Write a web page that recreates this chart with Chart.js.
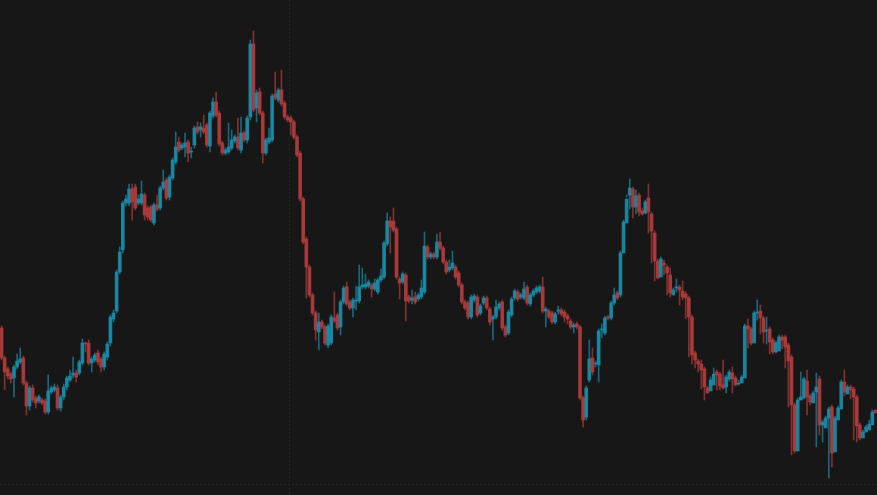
<!DOCTYPE html>
<html>
<head>
<meta charset="utf-8">
<script src="https://cdn.jsdelivr.net/npm/chart.js@4.4.1/dist/chart.umd.min.js"></script>
<style>
  html, body { margin: 0; padding: 0; background: #171717; }
  #wrap { width: 877px; height: 495px; position: relative; }
</style>
</head>
<body>
<div id="wrap"><canvas id="candles"></canvas></div>
<script>
// candle prices (one entry per candle)
const opens = [172,142,131,126,122,133,138,142,117,94,112,102,99,100,99,88,108,110,112,92,103,113,120,125,127,127,137,157,157,137,140,147,141,133,143,157,181,189,228,250,297,297,311,313,297,297,305,292,
  293,277,295,292,312,320,303,322,338,358,352,353,358,348,355,373,370,372,375,354,384,398,387,357,347,348,352,359,363,350,367,360,383,456,392,408,387,347,358,360,406,400,410,397,383,382,378,
  363,347,301,261,233,205,187,168,178,173,155,157,182,185,173,198,213,198,192,199,199,213,213,214,215,211,208,220,223,256,279,279,271,221,218,225,203,200,203,201,203,208,253,243,246,243,
  258,252,238,230,232,233,227,215,198,197,183,200,203,187,197,202,191,181,183,192,198,173,167,185,202,208,203,202,213,196,205,208,209,213,189,189,187,178,189,190,188,184,179,173,176,173,102,
  83,120,142,136,135,170,167,183,182,197,207,205,247,277,305,311,293,305,289,287,302,286,267,239,223,237,233,225,205,212,213,209,206,202,183,147,139,136,131,112,109,115,128,126,115,113,
  121,127,122,116,117,122,174,171,157,187,189,182,169,171,160,148,149,163,163,155,143,95,49,100,102,119,104,97,108,121,75,72,82,93,48,80,91,118,106,113,111,103,75,62,68,70,75,90];
const highs = [174,144,133,128,135,146,152,144,119,114,115,104,105,102,101,125,114,116,115,105,116,124,130,143,130,140,161,158,160,143,147,150,143,148,158,185,190,230,253,299,305,316,316,316,305,319,307,294,
  295,297,305,314,330,322,325,342,368,363,357,367,360,353,374,378,377,385,377,389,402,408,389,359,352,377,370,365,382,383,369,384,460,469,410,412,389,362,372,406,428,412,430,399,385,384,380,
  365,349,303,263,235,207,189,187,180,175,176,185,208,187,200,214,218,200,202,214,235,232,226,220,217,221,222,231,259,287,283,292,273,223,228,227,205,210,208,207,220,268,255,248,248,266,
  268,254,240,240,249,235,229,217,200,199,205,206,205,196,204,204,193,185,200,198,200,175,190,203,211,210,207,218,215,207,211,214,215,223,193,191,189,188,194,192,190,186,181,177,178,175,104,
  114,160,152,139,171,176,184,185,199,212,209,249,280,305,321,313,310,307,292,300,316,288,269,241,243,240,235,232,212,221,215,219,208,204,185,149,141,140,133,114,123,132,130,128,140,125,
  130,133,124,120,125,176,181,173,189,200,195,184,183,173,162,159,165,165,165,157,145,97,102,128,123,130,106,109,127,124,80,84,93,95,84,94,120,130,115,115,113,105,77,70,75,80,90,92];
const lows = [140,110,121,117,103,131,136,115,85,90,98,92,97,95,86,86,106,108,90,89,100,110,118,122,118,125,135,148,135,128,138,135,128,130,140,154,178,187,226,247,294,294,280,290,295,295,280,280,
  278,275,289,290,310,300,300,320,336,348,350,343,338,342,352,366,363,366,353,348,382,383,354,345,345,346,350,357,350,347,358,357,380,388,378,385,337,345,356,358,400,398,394,381,378,365,361,
  343,299,256,202,203,185,160,150,171,155,152,155,177,170,165,196,194,190,183,190,197,211,211,212,203,209,206,218,221,254,247,268,221,201,216,179,197,196,196,199,201,206,241,241,241,241,
  250,236,226,228,230,221,213,196,190,181,181,198,183,185,195,190,175,160,181,190,170,163,165,183,200,199,201,200,195,194,203,206,207,187,173,181,176,176,186,184,178,176,171,167,171,100,
  73,80,118,125,133,118,162,165,180,180,195,200,203,273,303,291,282,286,284,285,286,267,237,219,221,233,225,205,203,210,208,195,200,181,143,136,132,128,111,100,107,113,123,110,110,111,
  107,119,107,114,115,120,169,152,155,185,180,166,157,156,146,146,147,158,151,132,93,45,47,94,100,101,85,95,106,53,65,58,80,22,33,68,89,106,104,108,101,60,58,60,66,68,73,85];
const closes = [142,128,124,121,133,139,141,117,94,112,100,97,103,97,88,109,112,113,92,103,113,122,124,127,123,138,157,156,137,141,145,138,133,146,156,183,187,228,248,297,301,311,298,292,301,306,285,283,
  280,295,291,312,318,302,323,340,353,350,355,357,347,349,372,368,373,368,355,387,398,385,356,347,350,353,360,363,352,367,360,382,456,390,407,387,347,360,362,404,402,410,396,383,380,378,363,
  345,301,258,233,205,187,170,178,173,157,174,183,179,172,198,212,196,192,200,200,213,215,216,218,211,217,220,224,257,279,273,270,223,217,226,199,199,202,198,205,212,254,243,246,243,258,
  252,238,228,233,237,223,215,198,192,183,203,204,185,194,202,192,178,183,193,196,172,165,188,201,209,201,205,211,197,205,209,212,213,189,191,183,178,186,190,186,183,181,173,175,173,102,80,
  112,141,128,137,169,171,182,182,197,205,202,247,278,301,312,293,304,288,286,298,288,269,239,222,241,235,227,207,210,213,210,203,202,183,145,140,136,130,113,107,120,126,125,114,112,123,
  128,121,115,117,123,174,171,157,187,188,182,168,170,158,148,157,163,160,153,139,95,49,100,103,121,103,98,107,113,75,78,82,91,47,82,92,118,108,113,110,103,74,62,68,73,76,88,87];

const upColor = 'rgba(26, 140, 168, 0.92)';
const downColor = 'rgba(176, 60, 60, 0.92)';
const upWick = 'rgba(26, 140, 168, 0.7)';
const downWick = 'rgba(176, 60, 60, 0.7)';

// faint dotted guide lines, given in data units
const guideIndex = 92.5;
const guidePrice = 16;

const labels = closes.map((_, i) => i);
const rising = closes.map((c, i) => c >= opens[i]);

const bodies = opens.map((o, i) => [Math.min(o, closes[i]), Math.max(o, closes[i])]);
const wicks = lows.map((l, i) => [l, highs[i]]);

const guides = {
  id: 'guides',
  beforeDatasetsDraw(chart) {
    const { ctx, chartArea, scales: { x, y } } = chart;
    const gx = Math.round((x.getPixelForValue(Math.floor(guideIndex)) + x.getPixelForValue(Math.ceil(guideIndex))) / 2) + 0.5;
    const gy = Math.round(y.getPixelForValue(guidePrice)) + 0.5;
    ctx.save();
    ctx.strokeStyle = '#252525';
    ctx.lineWidth = 1;
    ctx.setLineDash([2, 2]);
    ctx.beginPath();
    ctx.moveTo(gx, chartArea.top);
    ctx.lineTo(gx, chartArea.bottom);
    ctx.moveTo(chartArea.left, gy);
    ctx.lineTo(chartArea.right, gy);
    ctx.stroke();
    ctx.restore();
  }
};

new Chart('candles', {
  type: 'bar',
  plugins: [guides],
  data: {
    labels: labels,
    datasets: [
      {
        data: wicks,
        backgroundColor: rising.map(r => r ? upWick : downWick),
        barThickness: 1,
        grouped: false,
        order: 2
      },
      {
        data: bodies,
        backgroundColor: rising.map(r => r ? upColor : downColor),
        barThickness: 3,
        grouped: false,
        order: 1
      }
    ]
  },
  options: {
    responsive: true,
    maintainAspectRatio: false,
    animation: false,
    layout: { padding: 0 },
    plugins: { legend: { display: false }, tooltip: { enabled: false } },
    scales: {
      x: { display: false, offset: true },
      y: { display: false, min: 5, max: 500 }
    }
  }
});
</script>
</body>
</html>
